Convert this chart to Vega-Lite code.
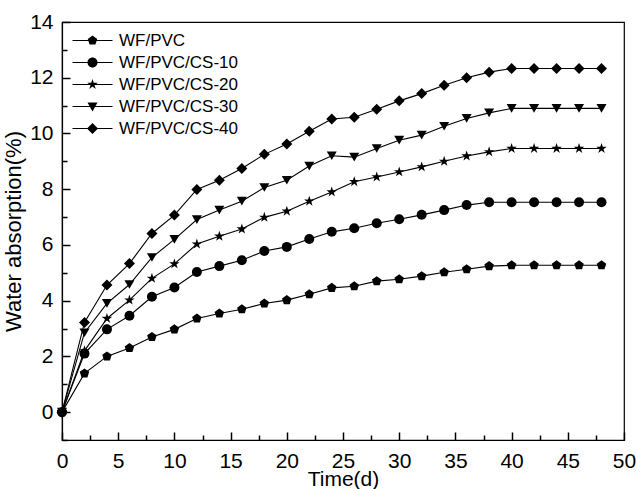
{
  "$schema": "https://vega.github.io/schema/vega-lite/v6.json",
  "width": 562,
  "height": 418,
  "autosize": {"type": "none"},
  "padding": {"left": 62, "top": 22, "right": 12, "bottom": 49},
  "background": "white",
  "config": {
    "view": {"stroke": "black", "strokeWidth": 1.2},
    "font": "Liberation Sans",
    "axis": {
      "domainColor": "black",
      "domainWidth": 1.2,
      "labelColor": "black",
      "titleColor": "black",
      "labelFont": "Liberation Sans",
      "titleFont": "Liberation Sans",
      "labelFontSize": 21,
      "titleFontSize": 21,
      "titleFontWeight": "normal",
      "labelOverlap": false
    }
  },
  "data": {
    "values": [
      {"t": 0, "s": "WF/PVC", "v": 0}, {"t": 2, "s": "WF/PVC", "v": 1.39}, {"t": 4, "s": "WF/PVC", "v": 2.0}, {"t": 6, "s": "WF/PVC", "v": 2.3}, {"t": 8, "s": "WF/PVC", "v": 2.7}, {"t": 10, "s": "WF/PVC", "v": 2.97}, {"t": 12, "s": "WF/PVC", "v": 3.36}, {"t": 14, "s": "WF/PVC", "v": 3.54}, {"t": 16, "s": "WF/PVC", "v": 3.69}, {"t": 18, "s": "WF/PVC", "v": 3.9}, {"t": 20, "s": "WF/PVC", "v": 4.02}, {"t": 22, "s": "WF/PVC", "v": 4.23}, {"t": 24, "s": "WF/PVC", "v": 4.46}, {"t": 26, "s": "WF/PVC", "v": 4.52}, {"t": 28, "s": "WF/PVC", "v": 4.7}, {"t": 30, "s": "WF/PVC", "v": 4.77}, {"t": 32, "s": "WF/PVC", "v": 4.88}, {"t": 34, "s": "WF/PVC", "v": 5.02}, {"t": 36, "s": "WF/PVC", "v": 5.13}, {"t": 38, "s": "WF/PVC", "v": 5.24}, {"t": 40, "s": "WF/PVC", "v": 5.27}, {"t": 42, "s": "WF/PVC", "v": 5.27}, {"t": 44, "s": "WF/PVC", "v": 5.27}, {"t": 46, "s": "WF/PVC", "v": 5.27}, {"t": 48, "s": "WF/PVC", "v": 5.27},
      {"t": 0, "s": "WF/PVC/CS-10", "v": 0}, {"t": 2, "s": "WF/PVC/CS-10", "v": 2.1}, {"t": 4, "s": "WF/PVC/CS-10", "v": 2.97}, {"t": 6, "s": "WF/PVC/CS-10", "v": 3.46}, {"t": 8, "s": "WF/PVC/CS-10", "v": 4.14}, {"t": 10, "s": "WF/PVC/CS-10", "v": 4.47}, {"t": 12, "s": "WF/PVC/CS-10", "v": 5.03}, {"t": 14, "s": "WF/PVC/CS-10", "v": 5.24}, {"t": 16, "s": "WF/PVC/CS-10", "v": 5.45}, {"t": 18, "s": "WF/PVC/CS-10", "v": 5.78}, {"t": 20, "s": "WF/PVC/CS-10", "v": 5.93}, {"t": 22, "s": "WF/PVC/CS-10", "v": 6.21}, {"t": 24, "s": "WF/PVC/CS-10", "v": 6.47}, {"t": 26, "s": "WF/PVC/CS-10", "v": 6.6}, {"t": 28, "s": "WF/PVC/CS-10", "v": 6.78}, {"t": 30, "s": "WF/PVC/CS-10", "v": 6.92}, {"t": 32, "s": "WF/PVC/CS-10", "v": 7.08}, {"t": 34, "s": "WF/PVC/CS-10", "v": 7.25}, {"t": 36, "s": "WF/PVC/CS-10", "v": 7.43}, {"t": 38, "s": "WF/PVC/CS-10", "v": 7.53}, {"t": 40, "s": "WF/PVC/CS-10", "v": 7.53}, {"t": 42, "s": "WF/PVC/CS-10", "v": 7.53}, {"t": 44, "s": "WF/PVC/CS-10", "v": 7.53}, {"t": 46, "s": "WF/PVC/CS-10", "v": 7.53}, {"t": 48, "s": "WF/PVC/CS-10", "v": 7.53},
      {"t": 0, "s": "WF/PVC/CS-20", "v": 0}, {"t": 2, "s": "WF/PVC/CS-20", "v": 2.2}, {"t": 4, "s": "WF/PVC/CS-20", "v": 3.36}, {"t": 6, "s": "WF/PVC/CS-20", "v": 4.02}, {"t": 8, "s": "WF/PVC/CS-20", "v": 4.8}, {"t": 10, "s": "WF/PVC/CS-20", "v": 5.32}, {"t": 12, "s": "WF/PVC/CS-20", "v": 6.03}, {"t": 14, "s": "WF/PVC/CS-20", "v": 6.31}, {"t": 16, "s": "WF/PVC/CS-20", "v": 6.57}, {"t": 18, "s": "WF/PVC/CS-20", "v": 6.99}, {"t": 20, "s": "WF/PVC/CS-20", "v": 7.21}, {"t": 22, "s": "WF/PVC/CS-20", "v": 7.57}, {"t": 24, "s": "WF/PVC/CS-20", "v": 7.9}, {"t": 26, "s": "WF/PVC/CS-20", "v": 8.27}, {"t": 28, "s": "WF/PVC/CS-20", "v": 8.44}, {"t": 30, "s": "WF/PVC/CS-20", "v": 8.62}, {"t": 32, "s": "WF/PVC/CS-20", "v": 8.8}, {"t": 34, "s": "WF/PVC/CS-20", "v": 9.0}, {"t": 36, "s": "WF/PVC/CS-20", "v": 9.19}, {"t": 38, "s": "WF/PVC/CS-20", "v": 9.34}, {"t": 40, "s": "WF/PVC/CS-20", "v": 9.46}, {"t": 42, "s": "WF/PVC/CS-20", "v": 9.46}, {"t": 44, "s": "WF/PVC/CS-20", "v": 9.46}, {"t": 46, "s": "WF/PVC/CS-20", "v": 9.46}, {"t": 48, "s": "WF/PVC/CS-20", "v": 9.46},
      {"t": 0, "s": "WF/PVC/CS-30", "v": 0}, {"t": 2, "s": "WF/PVC/CS-30", "v": 2.85}, {"t": 4, "s": "WF/PVC/CS-30", "v": 3.9}, {"t": 6, "s": "WF/PVC/CS-30", "v": 4.58}, {"t": 8, "s": "WF/PVC/CS-30", "v": 5.55}, {"t": 10, "s": "WF/PVC/CS-30", "v": 6.2}, {"t": 12, "s": "WF/PVC/CS-30", "v": 6.91}, {"t": 14, "s": "WF/PVC/CS-30", "v": 7.25}, {"t": 16, "s": "WF/PVC/CS-30", "v": 7.57}, {"t": 18, "s": "WF/PVC/CS-30", "v": 8.06}, {"t": 20, "s": "WF/PVC/CS-30", "v": 8.32}, {"t": 22, "s": "WF/PVC/CS-30", "v": 8.83}, {"t": 24, "s": "WF/PVC/CS-30", "v": 9.2}, {"t": 26, "s": "WF/PVC/CS-30", "v": 9.15}, {"t": 28, "s": "WF/PVC/CS-30", "v": 9.46}, {"t": 30, "s": "WF/PVC/CS-30", "v": 9.76}, {"t": 32, "s": "WF/PVC/CS-30", "v": 9.94}, {"t": 34, "s": "WF/PVC/CS-30", "v": 10.26}, {"t": 36, "s": "WF/PVC/CS-30", "v": 10.54}, {"t": 38, "s": "WF/PVC/CS-30", "v": 10.74}, {"t": 40, "s": "WF/PVC/CS-30", "v": 10.9}, {"t": 42, "s": "WF/PVC/CS-30", "v": 10.9}, {"t": 44, "s": "WF/PVC/CS-30", "v": 10.9}, {"t": 46, "s": "WF/PVC/CS-30", "v": 10.9}, {"t": 48, "s": "WF/PVC/CS-30", "v": 10.9},
      {"t": 0, "s": "WF/PVC/CS-40", "v": 0}, {"t": 2, "s": "WF/PVC/CS-40", "v": 3.22}, {"t": 4, "s": "WF/PVC/CS-40", "v": 4.56}, {"t": 6, "s": "WF/PVC/CS-40", "v": 5.33}, {"t": 8, "s": "WF/PVC/CS-40", "v": 6.41}, {"t": 10, "s": "WF/PVC/CS-40", "v": 7.07}, {"t": 12, "s": "WF/PVC/CS-40", "v": 7.99}, {"t": 14, "s": "WF/PVC/CS-40", "v": 8.32}, {"t": 16, "s": "WF/PVC/CS-40", "v": 8.74}, {"t": 18, "s": "WF/PVC/CS-40", "v": 9.25}, {"t": 20, "s": "WF/PVC/CS-40", "v": 9.62}, {"t": 22, "s": "WF/PVC/CS-40", "v": 10.08}, {"t": 24, "s": "WF/PVC/CS-40", "v": 10.52}, {"t": 26, "s": "WF/PVC/CS-40", "v": 10.58}, {"t": 28, "s": "WF/PVC/CS-40", "v": 10.87}, {"t": 30, "s": "WF/PVC/CS-40", "v": 11.17}, {"t": 32, "s": "WF/PVC/CS-40", "v": 11.43}, {"t": 34, "s": "WF/PVC/CS-40", "v": 11.73}, {"t": 36, "s": "WF/PVC/CS-40", "v": 12.0}, {"t": 38, "s": "WF/PVC/CS-40", "v": 12.2}, {"t": 40, "s": "WF/PVC/CS-40", "v": 12.33}, {"t": 42, "s": "WF/PVC/CS-40", "v": 12.33}, {"t": 44, "s": "WF/PVC/CS-40", "v": 12.33}, {"t": 46, "s": "WF/PVC/CS-40", "v": 12.33}, {"t": 48, "s": "WF/PVC/CS-40", "v": 12.33}
    ]
  },
  "encoding": {
    "x": {
      "field": "t", "type": "quantitative",
      "scale": {"domain": [0, 50], "nice": false, "zero": false},
      "axis": {
        "title": "Time(d)",
        "values": [0, 2.5, 5, 7.5, 10, 12.5, 15, 17.5, 20, 22.5, 25, 27.5, 30, 32.5, 35, 37.5, 40, 42.5, 45, 47.5, 50],
        "labelExpr": "datum.value % 5 === 0 ? datum.label : ''",
        "ticks": true,
        "tickSize": {"condition": {"test": "datum.value % 5 === 0", "value": -8}, "value": -5},
        "tickColor": "black",
        "tickWidth": 1.5,
        "tickOpacity": 1,
        "grid": false,
        "labelPadding": 18,
        "titlePadding": -6,
        "labelFlush": false
      }
    },
    "y": {
      "field": "v", "type": "quantitative",
      "scale": {"domain": [-1, 14], "nice": false, "zero": false},
      "axis": {
        "title": "Water absorption(%)",
        "titleFontSize": 22,
        "values": [-1, 0, 1, 2, 3, 4, 5, 6, 7, 8, 9, 10, 11, 12, 13, 14],
        "labelExpr": "datum.value % 2 === 0 ? datum.label : ''",
        "ticks": true,
        "tickSize": {"condition": {"test": "datum.value % 2 === 0", "value": -8}, "value": -5},
        "tickColor": "black",
        "tickWidth": 1.5,
        "tickOpacity": 1,
        "grid": false,
        "labelPadding": 17,
        "titlePadding": 4,
        "labelFlush": false
      }
    }
  },
  "resolve": {"scale": {"shape": "independent"}},
  "layer": [
    {
      "mark": {"type": "line", "color": "black", "strokeWidth": 1.1},
      "encoding": {"detail": {"field": "s", "type": "nominal"}}
    },
    {
      "mark": {"type": "point", "filled": true, "color": "black", "opacity": 1, "size": 100},
      "encoding": {
        "shape": {
          "field": "s", "type": "nominal",
          "scale": {
            "domain": ["WF/PVC", "WF/PVC/CS-10", "WF/PVC/CS-20", "WF/PVC/CS-30", "WF/PVC/CS-40"],
            "range": [
              "M0,-1L0.951,-0.309L0.588,0.809L-0.588,0.809L-0.951,-0.309Z",
              "circle",
              "M0,-1.1L0.247,-0.34L1.046,-0.34L0.4,0.13L0.647,0.89L0,0.42L-0.647,0.89L-0.4,0.13L-1.046,-0.34L-0.247,-0.34Z",
              "triangle-down",
              "M0,-1.1L1.1,0L0,1.1L-1.1,0Z"
            ]
          },
          "legend": null
        }
      }
    },
    {
      "mark": {"type": "point", "filled": true, "color": "black", "opacity": 0, "size": 100},
      "encoding": {
        "shape": {
          "field": "s", "type": "nominal",
          "scale": {
            "domain": ["WF/PVC", "WF/PVC/CS-10", "WF/PVC/CS-20", "WF/PVC/CS-30", "WF/PVC/CS-40"],
            "range": [
              "M-4,-0.11L4,-0.11L4,0.11L-4,0.11ZM0,-1L0.951,-0.309L0.588,0.809L-0.588,0.809L-0.951,-0.309Z",
              "M-4,-0.11L4,-0.11L4,0.11L-4,0.11ZM1,0A1,1,0,1,1,-1,0A1,1,0,1,1,1,0Z",
              "M-4,-0.11L4,-0.11L4,0.11L-4,0.11ZM0,-1.1L0.247,-0.34L1.046,-0.34L0.4,0.13L0.647,0.89L0,0.42L-0.647,0.89L-0.4,0.13L-1.046,-0.34L-0.247,-0.34Z",
              "M-4,-0.11L4,-0.11L4,0.11L-4,0.11ZM-1,-0.8L1,-0.8L0,1Z",
              "M-4,-0.11L4,-0.11L4,0.11L-4,0.11ZM0,-1.1L1.1,0L0,1.1L-1.1,0Z"
            ]
          },
          "legend": {
            "title": null,
            "orient": "none",
            "legendX": 22,
            "legendY": 10,
            "padding": 0,
            "labelFont": "Liberation Sans",
            "labelFontSize": 17,
            "labelColor": "black",
            "labelOffset": 18,
            "symbolSize": 100,
            "symbolFillColor": "black",
            "symbolOpacity": 1,
            "rowPadding": 4
          }
        }
      }
    }
  ]
}
